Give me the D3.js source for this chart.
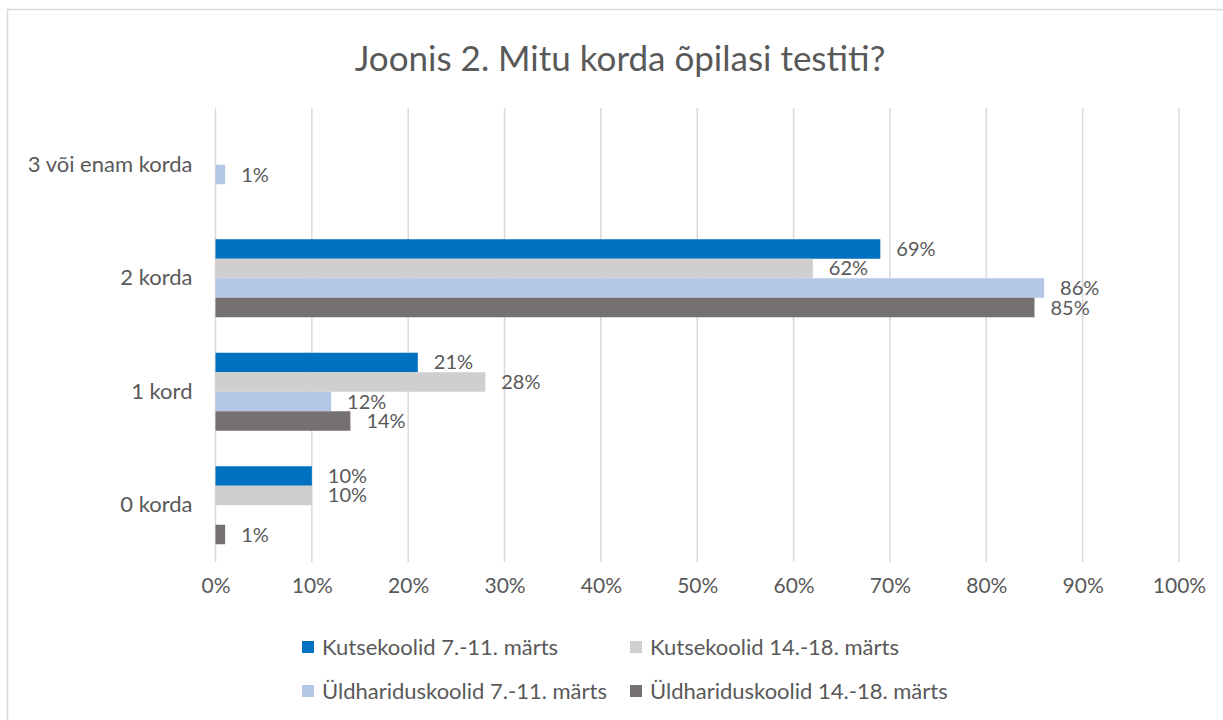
<!DOCTYPE html>
<html>
<head>
<meta charset="utf-8">
<script src="https://cdn.jsdelivr.net/npm/d3@7"></script>
<style>
  body { margin: 0; background: #fff; }
  svg text { font-family: Lato, "Open Sans", sans-serif; fill: #595959; }
</style>
</head>
<body>
<svg id="canvas" width="1223" height="720"></svg>
<script>
const categories = ["3 või enam korda", "2 korda", "1 kord", "0 korda"]
const seriesNames = ["Kutsekoolid 7.-11. märts", "Kutsekoolid 14.-18. märts", "Üldhariduskoolid 7.-11. märts", "Üldhariduskoolid 14.-18. märts"]
const seriesColors = ["#0070C0", "#D0CECE", "#B4C7E7", "#767171"]
// values per series, in the order of categories (null = no bar)
const kutse1 = [null, 69, 21, 10]
const kutse2 = [null, 62, 28, 10]
const yld1 = [1, 86, 12, null]
const yld2 = [null, 85, 14, 1]
const seriesValues = [kutse1, kutse2, yld1, yld2]
const tickValues = [0, 10, 20, 30, 40, 50, 60, 70, 80, 90, 100]

let canvas = d3.select("#canvas")

// outer chart border (only top and left edges fall inside the picture)
canvas.append("rect")
      .attr("x", 7.5).attr("y", 9.5)
      .attr("width", 1240).attr("height", 740)
      .attr("fill", "none")
      .attr("stroke", "#D9D9D9")
      .attr("stroke-width", 1.5)

canvas.append("text")
      .attr("x", 620)
      .attr("y", 71)
      .attr("text-anchor", "middle")
      .style("font-size", "35px")
      .text("Joonis 2. Mitu korda õpilasi testiti?")

let xScale = d3.scaleLinear().domain([0, 100]).range([215.5, 1179])
let yScale = d3.scaleBand().domain(categories).range([108, 562])
let inner = d3.scaleBand().domain(d3.range(seriesNames.length))
              .range([0, yScale.bandwidth()])
              .paddingInner(0).paddingOuter(0.91)

// gridlines
canvas.append("g")
      .selectAll("line")
      .data(tickValues)
      .enter()
      .append("line")
      .attr("x1", (d) => xScale(d)).attr("x2", (d) => xScale(d))
      .attr("y1", 108).attr("y2", 562)
      .attr("stroke", "#D9D9D9")
      .attr("stroke-width", 1.5)

// x tick labels
let xAxis = d3.axisBottom(xScale).tickValues(tickValues).tickFormat((d) => d + "%").tickSize(0).tickPadding(0)
let xg = canvas.append("g").attr("transform", "translate(0,578)").call(xAxis)
xg.select(".domain").remove()
xg.selectAll("text").style("font-size", "21px").attr("fill", "#595959")

// category labels
let yAxis = d3.axisLeft(yScale).tickSize(0).tickPadding(23)
let yg = canvas.append("g").attr("transform", "translate(215.5,0)").call(yAxis)
yg.select(".domain").remove()
yg.selectAll("text").style("font-size", "22px").attr("fill", "#595959")

// bars + labels
let rows = []
seriesValues.forEach((vals, s) => {
  vals.forEach((v, c) => {
    if (v !== null) rows.push({s: s, cat: categories[c], value: v})
  })
})

canvas.append("g")
      .selectAll("rect")
      .data(rows)
      .enter()
      .append("rect")
      .attr("x", xScale(0))
      .attr("y", (d) => yScale(d.cat) + inner(d.s))
      .attr("width", (d) => xScale(d.value) - xScale(0))
      .attr("height", inner.bandwidth())
      .attr("fill", (d) => seriesColors[d.s])

canvas.append("g")
      .selectAll("text")
      .data(rows)
      .enter()
      .append("text")
      .attr("x", (d) => xScale(d.value) + 16)
      .attr("y", (d) => yScale(d.cat) + inner(d.s) + inner.bandwidth() / 2)
      .attr("dy", "0.35em")
      .style("font-size", "20px")
      .text((d) => d.value + "%")

// legend, two columns
let legend = canvas.append("g")
const g = legend.selectAll("g")
                .data(seriesNames)
                .enter()
                .append("g")
                .attr("transform", (d, i) => "translate(" + (302 + (i % 2) * 328) + "," + (647 + Math.floor(i / 2) * 44) + ")")

g.append("rect")
 .attr("x", 0).attr("y", -6)
 .attr("width", 12).attr("height", 12)
 .attr("fill", (d, i) => seriesColors[i])

g.append("text")
 .attr("x", 20)
 .attr("y", 0)
 .attr("dy", "0.35em")
 .style("font-size", "22px")
 .text((d) => d)
</script>
</body>
</html>
